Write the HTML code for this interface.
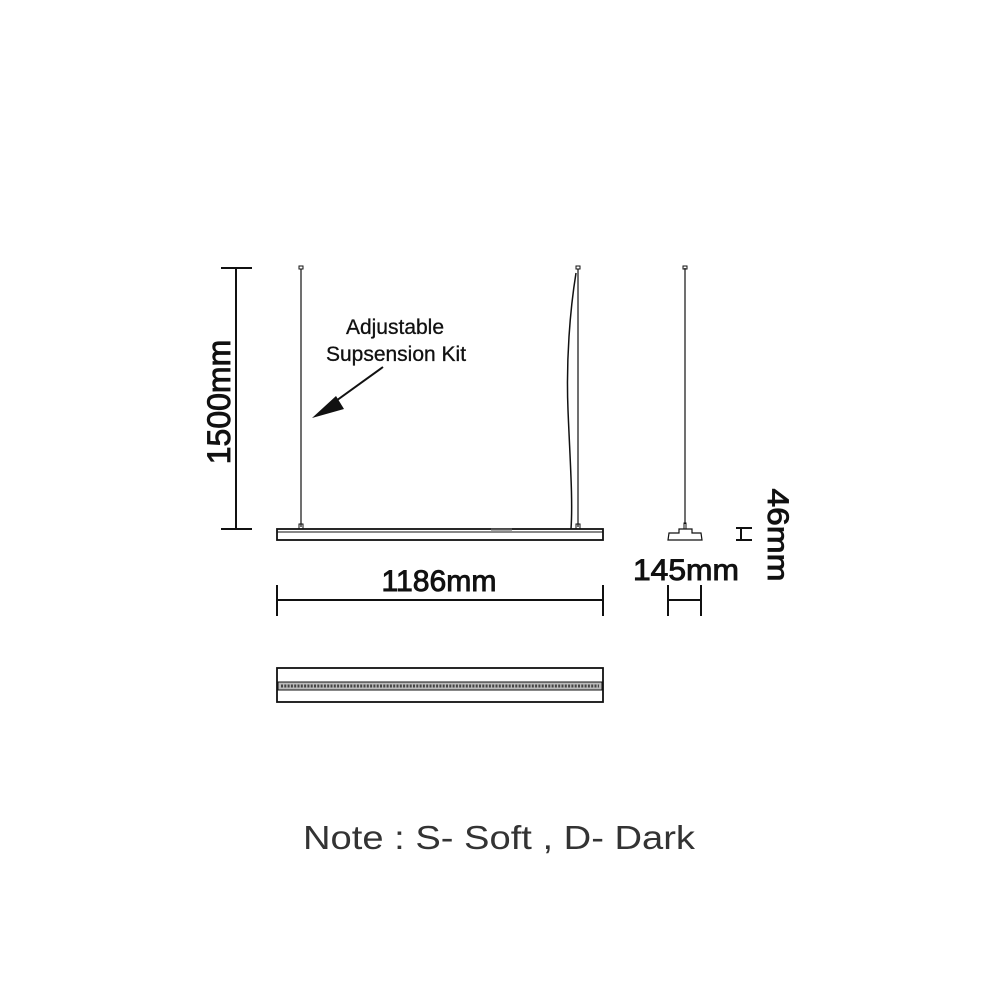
<!DOCTYPE html>
<html><head><meta charset="utf-8"><style>html,body{margin:0;padding:0;background:#fff}svg{display:block}</style></head>
<body>
<svg width="1000" height="1000" viewBox="0 0 1000 1000" xmlns="http://www.w3.org/2000/svg" font-family="Liberation Sans, sans-serif">
<rect width="1000" height="1000" fill="#fff"/>
<g stroke="#111" fill="none">
  <line x1="236" y1="268" x2="236" y2="529" stroke-width="2"/>
  <line x1="221" y1="268" x2="252" y2="268" stroke-width="2"/>
  <line x1="221" y1="529" x2="252" y2="529" stroke-width="2"/>
  <line x1="301" y1="269" x2="301" y2="527" stroke-width="1.2"/>
  <rect x="299" y="266" width="4" height="3" stroke-width="1"/>
  <rect x="299" y="524" width="4" height="5" stroke-width="1"/>
  <line x1="578" y1="269" x2="578" y2="527" stroke-width="1.2"/>
  <rect x="576" y="266" width="4" height="3" stroke-width="1"/>
  <rect x="576" y="524" width="4" height="5" stroke-width="1"/>
  <path d="M576 273 C570 310,566 360,568 410 C570 460,573 500,571 529" stroke-width="1.5"/>
  <rect x="277" y="529" width="326" height="11" stroke-width="1.8"/>
  <line x1="277" y1="532" x2="603" y2="532" stroke-width="1"/>
  <line x1="491" y1="529.5" x2="512" y2="529.5" stroke-width="2" stroke="#555"/>
  <line x1="383" y1="367" x2="322" y2="411" stroke-width="2"/>
  <line x1="277" y1="600" x2="603" y2="600" stroke-width="2"/>
  <line x1="277" y1="585" x2="277" y2="616" stroke-width="2"/>
  <line x1="603" y1="585" x2="603" y2="616" stroke-width="2"/>
  <rect x="277" y="668" width="326" height="34" stroke-width="1.8"/>
  <rect x="278" y="682" width="324" height="8" stroke-width="1" fill="#bbb"/>
  <line x1="281" y1="686" x2="599" y2="686" stroke-width="3" stroke="#444" stroke-dasharray="2 1.3"/>
  <line x1="685" y1="268" x2="685" y2="524" stroke-width="1.2"/>
  <rect x="683" y="266" width="4" height="3" stroke-width="1"/>
  <path d="M668 540 L702 540 L701 533 L692 533 L692 529 L679 529 L679 533 L669 533 Z" stroke-width="1.2"/>
  <rect x="684" y="523" width="2" height="6" stroke-width="1"/>
  <line x1="668" y1="585" x2="668" y2="616" stroke-width="2"/>
  <line x1="701" y1="585" x2="701" y2="616" stroke-width="2"/>
  <line x1="668" y1="600" x2="701" y2="600" stroke-width="2"/>
  <line x1="736" y1="528" x2="752" y2="528" stroke-width="2"/>
  <line x1="736" y1="540" x2="752" y2="540" stroke-width="2"/>
  <line x1="741" y1="528" x2="741" y2="540" stroke-width="2"/>
</g>
<polygon points="312,418 336,396 344,409" fill="#111"/>
<text x="395" y="334" font-size="21" text-anchor="middle" fill="#111" stroke="#111" stroke-width="0.3">Adjustable</text>
<text x="396" y="361" font-size="21" text-anchor="middle" fill="#111" stroke="#111" stroke-width="0.3">Supsension Kit</text>
<g fill="#111" stroke="#111" stroke-width="0.9">
<text transform="translate(230,402) rotate(-90)" font-size="32" text-anchor="middle">1500mm</text>
<text x="439" y="591" font-size="30" text-anchor="middle" textLength="115" lengthAdjust="spacingAndGlyphs">1186mm</text>
<text x="686" y="580" font-size="30" text-anchor="middle" textLength="106" lengthAdjust="spacingAndGlyphs">145mm</text>
<text transform="translate(768,535) rotate(90)" font-size="30" text-anchor="middle" textLength="93" lengthAdjust="spacingAndGlyphs">46mm</text>
</g>
<text x="303" y="849" font-size="33" fill="#333" textLength="392" lengthAdjust="spacingAndGlyphs">Note :  S- Soft , D- Dark</text>
</svg>
</body></html>
